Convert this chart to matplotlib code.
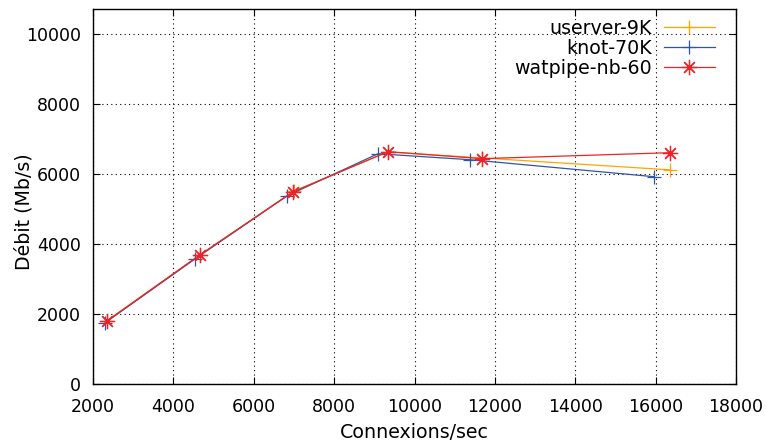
import numpy as np
import matplotlib
matplotlib.use('Agg')
import matplotlib.pyplot as plt

# values
userver_x = [2340, 4660, 6990, 9330, 11680, 16360]
userver_y = [1800, 3680, 5500, 6620, 6450, 6110]
knot_x = [2300, 4540, 6830, 9090, 11380, 15960]
knot_y = [1745, 3570, 5370, 6570, 6400, 5915]
watpipe_x = [2350, 4660, 6980, 9340, 11680, 16360]
watpipe_y = [1800, 3685, 5485, 6630, 6430, 6600]

labels = ['userver-9K', 'knot-70K', 'watpipe-nb-60']
colors = ['#ffa500', '#2f55a8', '#ee2228']

plt.rcParams['font.family'] = ['DejaVu Sans']
fs_tick = 12.5
fs = 13.7

fig = plt.figure(figsize=(7.66, 4.45), dpi=100)
ax = fig.add_axes([93/766, 1 - 384/445, (736-93)/766, (384-9)/445])

ax.plot(userver_x, userver_y, color=colors[0], lw=0.9, marker='+', ms=10, mew=0.9, label=labels[0])
ax.plot(knot_x, knot_y, color=colors[1], lw=0.9, marker='+', ms=10, mew=0.9, label=labels[1])
ax.plot(watpipe_x, watpipe_y, color=colors[2], lw=0.9, marker=(8, 2, 0), ms=11, mew=0.9, label=labels[2])

ax.set_xlim(2000, 18000)
ax.set_ylim(0, 10700)
ax.set_xticks(np.arange(2000, 18001, 2000))
ax.set_yticks(np.arange(0, 10001, 2000))
ax.grid(True, color='black', linestyle=(0, (1, 3)), lw=0.8)
ax.tick_params(direction='in', top=True, right=True, length=5, width=0.8,
               labelsize=fs_tick)
ax.tick_params(axis='x', pad=10)
ax.tick_params(axis='y', pad=8.5)
for s in ax.spines.values():
    s.set_linewidth(1.0)

ax.set_xlabel('Connexions/sec', fontsize=fs, va='center')
ax.set_ylabel('Débit (Mb/s)', fontsize=fs, va='center')
ax.xaxis.set_label_coords((414-93)/643, (384-432)/375)
ax.yaxis.set_label_coords((24-93)/643, (384-212)/375)

leg = ax.legend(loc='upper right', bbox_to_anchor=((715-93)/643, (384-19)/375),
                frameon=False, markerfirst=False, fontsize=fs, borderpad=0,
                borderaxespad=0, handlelength=2.7, handletextpad=0.6,
                labelspacing=0.05)
for col in leg._legend_handle_box.get_children():
    col.align = 'right'

fig.savefig('out.png', dpi=100)
